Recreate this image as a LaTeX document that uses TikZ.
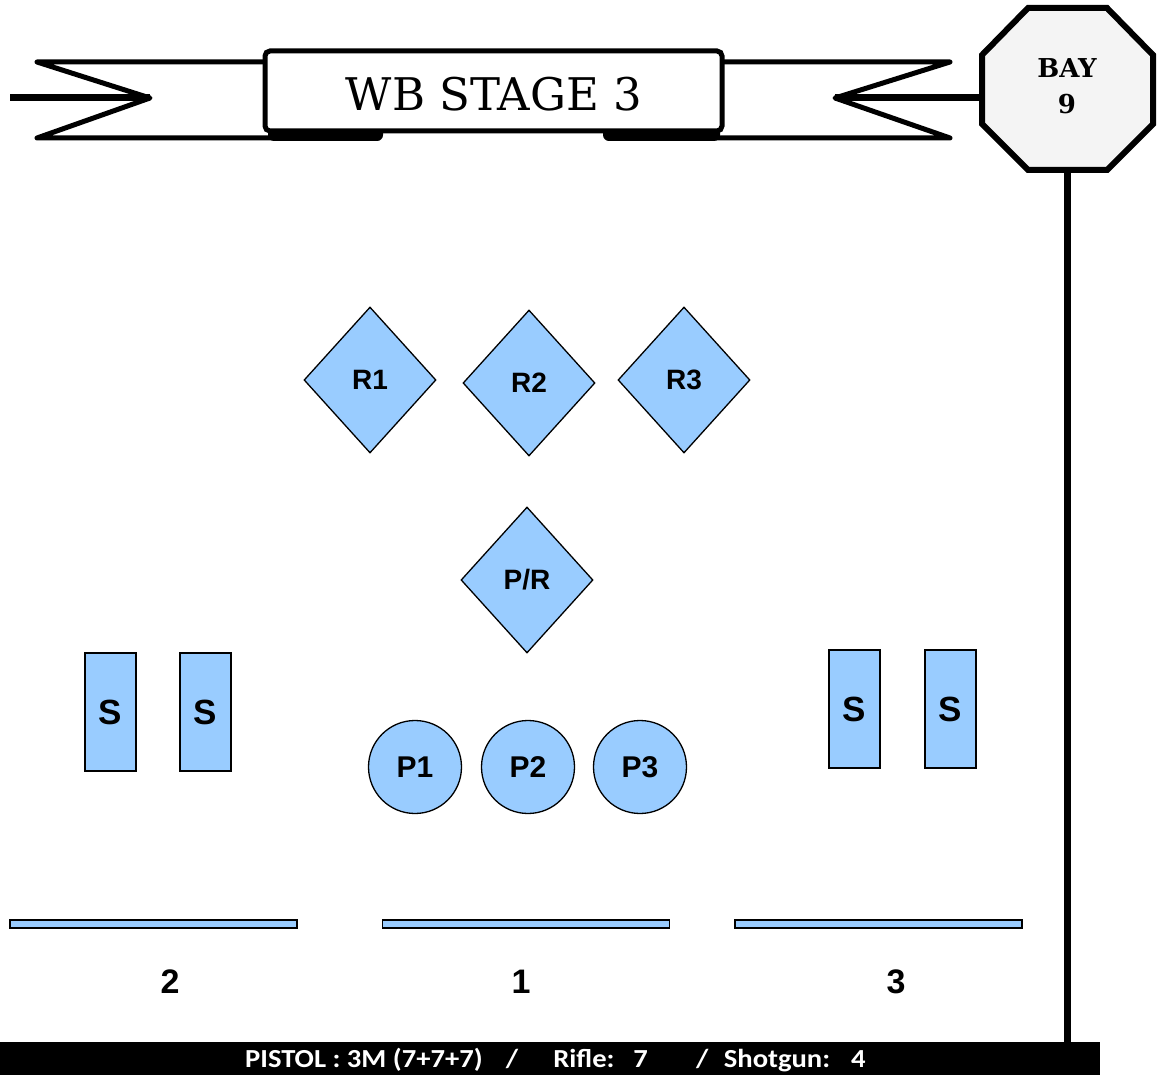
\documentclass[tikz,border=0pt]{standalone}
\usepackage{fontspec}
\usetikzlibrary{shapes.geometric}
\newfontfamily\shapefont{Liberation Sans}
\newfontfamily\barfont{Carlito}
\newfontfamily\bayfont{DejaVu Serif}
\newfontfamily\titlefont{DejaVu Serif}
\definecolor{tgtblue}{HTML}{99CCFF}
\definecolor{baygray}{HTML}{F4F4F4}
\tikzset{
  rib/.style={line width=5pt, line join=round, line cap=round},
  diam/.style={diamond, draw=black, line width=1.3pt, fill=tgtblue, inner sep=0pt,
    minimum width=132pt, minimum height=146pt, font=\shapefont\bfseries\fontsize{28}{30}\selectfont},
  plate/.style={circle, draw=black, line width=1.3pt, fill=tgtblue, inner sep=0pt,
    minimum size=93pt, font=\shapefont\bfseries\fontsize{30}{32}\selectfont},
  shot/.style={rectangle, draw=black, line width=1.3pt, fill=tgtblue, inner sep=0pt,
    minimum width=51pt, minimum height=118pt, font=\shapefont\bfseries\fontsize{35}{37}\selectfont},
  lane/.style={rectangle, draw=black, line width=1.3pt, fill=tgtblue, inner sep=0pt,
    minimum width=287pt, minimum height=8pt},
  lanelbl/.style={font=\shapefont\bfseries\fontsize{34}{36}\selectfont},
  post/.style={line width=7pt},
}
\begin{document}
\begin{tikzpicture}[x=1pt,y=-1pt]
\useasboundingbox (0,0) rectangle (1161,1075);
\fill[white] (0,0) rectangle (1161,1075);

% bottom bar
\node[fill=black, minimum width=1100pt, minimum height=33pt, inner sep=0pt, anchor=north west] (bar) at (0,1042) {};
\node[text=white, anchor=west, inner sep=0pt, font=\barfont\bfseries\fontsize{26}{28}\selectfont] (bartext) at (245,1060)
  {\scalebox{1.1}[1]{PISTOL : 3M (7+7+7)\hspace{21pt}/\hspace{32pt}Rifle:\hspace{17pt}7\hspace{44pt}/\hspace{14pt}Shotgun:\hspace{19pt}4}};

% octagon
\coordinate (o1) at (1028,8);
\coordinate (o2) at (1107,8);
\coordinate (o3) at (1153,55);
\coordinate (o4) at (1153,124);
\coordinate (o5) at (1107,170);
\coordinate (o6) at (1028,170);
\coordinate (o7) at (982,124);
\coordinate (o8) at (982,55);
\coordinate (obot) at (1067,170);
\coordinate (oleft) at (982,97);
\draw[line width=6pt, fill=baygray, line join=miter] (o1)--(o2)--(o3)--(o4)--(o5)--(o6)--(o7)--(o8)--cycle;
\node[font=\bayfont\bfseries\fontsize{26}{36}\selectfont, align=center, inner sep=0pt] (bay) at (1067,86) {BAY\\9};
\coordinate (postend) at (1067,1042);
\draw[post] (obot) -- (postend);

% banner
\coordinate (lt) at (37,62);
\coordinate (lv) at (150,98);
\coordinate (lb) at (37,138);
\coordinate (rt) at (950,62);
\coordinate (rv) at (835,98);
\coordinate (rb) at (950,138);
\coordinate (lstub) at (10,98);
\draw[rib] (265,62) -- (lt) -- (lv) -- (lb) -- (378,138);
\draw[rib] (722,62) -- (rt) -- (rv) -- (rb) -- (608,138);
\fill[rounded corners=6pt] (268,126) rectangle (383,141);
\fill[rounded corners=6pt] (603,126) rectangle (720,141);
\draw[post] (lstub) -- (lv);
\draw[post] (rv) -- (rv -| oleft);
\node[draw=black, line width=5pt, fill=white, rounded corners=5pt, minimum width=457pt, minimum height=80pt, inner sep=0pt] (title) at (493.5,91) {};
\node[font=\titlefont\fontsize{45}{47}\selectfont, inner sep=0pt] (titletext) at (494,94) {WB STAGE 3};

% rifle targets
\node[diam] (R1) at (370,380) {R1};
\node[diam] (R2) at (529,383) {R2};
\node[diam] (R3) at (684,380) {R3};
\node[diam] (PR) at (527,580) {P/R};

% pistol plates
\node[plate] (P1) at (415,767) {P1};
\node[plate] (P2) at (528,767) {P2};
\node[plate] (P3) at (640,767) {P3};

% shotgun targets
\node[shot] (S1) at (110.5,712) {S};
\node[shot] (S2) at (205.5,712) {S};
\node[shot] (S3) at (854.5,709) {S};
\node[shot] (S4) at (950.5,709) {S};

% shooting positions
\node[lane] (L2) at (153.5,924) {};
\node[lane] (L1) at (526,924) {};
\node[lane] (L3) at (878.5,924) {};
\node[lanelbl] (N2) at (170,982) {2};
\node[lanelbl] (N1) at (521,982) {1};
\node[lanelbl] (N3) at (896,982) {3};
\end{tikzpicture}
\end{document}
